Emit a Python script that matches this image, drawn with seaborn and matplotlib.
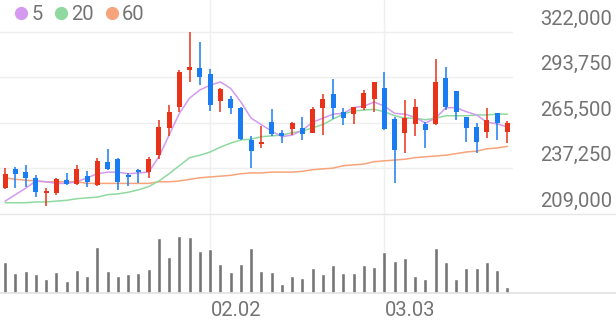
import numpy as np
import pandas as pd
import matplotlib
matplotlib.use("Agg")
import matplotlib.pyplot as plt
import matplotlib.transforms as mtrans
from matplotlib.lines import Line2D
import seaborn as sns

# ---------------- data ----------------
opens = [225000, 237000, 235000, 231500, 222000, 222000, 230000, 227500, 232500, 227000,
         241500, 243000, 233000, 236500, 235000, 245500, 262500, 275500, 298500, 299500,
         296000, 279000, 280500, 275000, 255000, 252500, 266000, 259500, 262000, 262500,
         259500, 275000, 283500, 272500, 271000, 275000, 280500, 287000, 268000, 259500,
         265000, 265000, 265000, 293500, 285500, 269000, 263000, 260000, 271500, 260000]
highs = [237500, 238000, 239500, 233000, 225000, 231500, 234500, 239500, 235500, 244000,
         249500, 244000, 234500, 237000, 244500, 267500, 276500, 298500, 322000, 316000,
         299000, 287000, 282500, 275500, 257500, 263500, 274000, 261000, 266000, 269000,
         275500, 283500, 293000, 275000, 275500, 286000, 291000, 297000, 269000, 280000,
         280500, 266000, 305000, 300500, 285500, 269000, 265500, 275000, 271500, 266500]
lows = [224500, 225000, 226000, 219500, 214000, 221000, 227000, 227000, 226000, 226500,
        236500, 224000, 226500, 228000, 231500, 243000, 257500, 272500, 291000, 289000,
        273000, 272500, 271000, 255000, 237500, 250000, 257500, 253000, 258000, 255000,
        259000, 258000, 268000, 264500, 265000, 273500, 272500, 261000, 228000, 247000,
        257500, 250000, 264500, 273500, 267500, 253500, 247000, 256000, 255000, 253000]
closes = [234000, 234000, 231500, 222500, 223500, 230500, 227500, 237000, 229000, 242000,
          237000, 229000, 232000, 235000, 243000, 263000, 272500, 297000, 300500, 294000,
          276500, 286500, 275000, 255500, 248000, 253500, 258500, 257500, 265500, 258500,
          274000, 280500, 275000, 268500, 275500, 284000, 291000, 262000, 248500, 268500,
          275500, 261000, 291000, 275500, 272500, 262500, 253500, 267500, 265500, 265500]
ma5 = [217000, 221000, 225000, 229500, 229000, 228000, 228000, 229000, 231500, 234000,
       235000, 235000, 234000, 234500, 235000, 244500, 258000, 271500, 281000, 286000,
       289000, 291000, 287000, 278500, 268500, 264500, 260500, 257000, 258000, 261000,
       266000, 268500, 271000, 271500, 275000, 276000, 278500, 276000, 271500, 271000,
       269000, 265500, 268500, 275000, 275000, 272500, 270500, 266000, 265000, 263000]
ma20 = [216000, 216000, 216000, 216500, 216500, 217000, 217500, 218500, 219000, 219500,
        221000, 221500, 222500, 224000, 226000, 229500, 234000, 239000, 244000, 245500,
        247500, 250500, 253000, 255000, 255500, 257000, 257500, 258000, 259500, 260500,
        262500, 264500, 268000, 271000, 273000, 273500, 274000, 272500, 270000, 268500,
        268500, 267500, 268500, 270000, 270000, 270000, 270500, 270500, 271000, 271000]
ma60 = [231500, 230500, 230000, 229500, 229000, 229000, 229000, 229000, 228000, 228000,
        228000, 228000, 228000, 228000, 228000, 229000, 229000, 229500, 230500, 231500,
        232000, 232500, 233000, 234000, 234500, 234500, 235000, 235000, 235000, 235500,
        236500, 237000, 237500, 239000, 239500, 240000, 241500, 242000, 242500, 243000,
        244000, 244500, 245000, 245500, 246500, 247500, 248000, 249500, 250000, 251000]
volumes = [31000, 20000, 22000, 19000, 14000, 21000, 12000, 23000, 17000, 46000,
           22000, 17000, 19000, 20000, 24000, 55000, 36000, 57000, 56000, 42000,
           44000, 29000, 21000, 29000, 45000, 22000, 21000, 9000, 17000, 15000,
           25000, 19000, 28000, 20000, 20000, 28000, 26000, 41000, 32000, 35000,
           17000, 14000, 45000, 31000, 14000, 25000, 25000, 31000, 23000, 6000]
ytick_vals = [209000, 237250, 265500, 293750, 322000]
xtick_pos = [20, 37]
xtick_labels = ["02.02", "03.03"]
legend_labels = ["5", "20", "60"]

# ---------------- style ----------------
sns.set_theme(style="white")
plt.rcParams["font.family"] = ["Roboto", "DejaVu Sans"]

RED = "#e8321a"
BLUE = "#1a7cf2"
GRAY_TXT = "#737373"
GRID = "#efefef"
MA_COLORS = ["#d49af0", "#8fd9a0", "#f7a47c"]

W, H = 616, 321
fig = plt.figure(figsize=(W / 100, H / 100), dpi=100)
plot_w = 512.5 / W
ax = fig.add_axes([0, 1 - 214 / H, plot_w, 214 / H])
axv = fig.add_axes([0, 1 - 293 / H, plot_w, 79 / H])

n = len(closes)
idx = np.arange(n)
df = pd.DataFrame({"i": idx, "open": opens, "high": highs, "low": lows,
                   "close": closes, "ma5": ma5, "ma20": ma20, "ma60": ma60,
                   "vol": volumes})
up = df["close"] >= df["open"]
colors = np.where(up, RED, BLUE)

# price axis scale: gridline 322,000 at px 32 from top, 209,000 at px 214
px_per = (214 - 32) / (322000 - 209000)
ytop = 322000 + 32 / px_per
ax.set_ylim(209000, ytop)
ax.set_xlim(-0.5, n - 0.5)

for v in ytick_vals[1:]:
    ax.axhline(v, color=GRID, lw=1, zorder=0)
for xp in xtick_pos:
    ax.axvline(xp, color=GRID, lw=1, zorder=0)
    axv.axvline(xp, color=GRID, lw=1, zorder=0)

# moving averages
for col, c in zip(["ma60", "ma20", "ma5"], MA_COLORS[::-1]):
    sns.lineplot(data=df, x="i", y=col, ax=ax, color=c, lw=1.1, zorder=2)

# candles
ax.vlines(df["i"], df["low"], df["high"], colors=colors, lw=1.1, zorder=3)
body_bottom = np.minimum(df["open"], df["close"])
body_h = np.maximum(np.abs(df["close"] - df["open"]), 700)
ax.bar(df["i"], body_h, bottom=body_bottom, width=0.5, color=colors, zorder=4, linewidth=0)

# volume
sns.barplot(data=df, x="i", y="vol", ax=axv, color="#757575", width=0.4,
            saturation=1, zorder=3)
axv.set_xlim(-0.5, n - 0.5)
axv.set_ylim(0, 79000)

for a in (ax, axv):
    a.set_xticks([])
    a.set_yticks([])
    a.set_xlabel("")
    a.set_ylabel("")
    for s in a.spines.values():
        s.set_visible(False)
    a.patch.set_alpha(0)

# full-width separator lines
t1 = mtrans.blended_transform_factory(fig.transFigure, ax.transData)
fig.add_artist(Line2D([0, 1], [209000, 209000], transform=t1, color="#e6e6e6", lw=1))
t2 = mtrans.blended_transform_factory(fig.transFigure, axv.transData)
fig.add_artist(Line2D([0, 1], [0, 0], transform=t2, color="#e2e2e2", lw=1.2))

# y tick labels (above gridlines, right-aligned)
lab_t = t1 + mtrans.ScaledTranslation(0, 3.5 / 100, fig.dpi_scale_trans)
for v in ytick_vals:
    ax.text(612 / W, v, f"{v:,}", transform=lab_t, ha="right", va="bottom",
            fontsize=14.5, color=GRAY_TXT)

# x tick labels (left-aligned at the gridline)
tx = mtrans.blended_transform_factory(axv.transData, fig.transFigure)
for p, l in zip(xtick_pos, xtick_labels):
    axv.text(p + 0.08, 1 - 310 / H, l, transform=tx, ha="left", va="center",
             fontsize=14.5, color=GRAY_TXT)

# legend
handles = [Line2D([], [], marker="o", linestyle="", color=c, markersize=8.5, label=l)
           for c, l in zip(MA_COLORS, legend_labels)]
fig.legend(handles=handles, loc="upper left", bbox_to_anchor=(-0.008, 1.028), ncol=3,
           frameon=False, fontsize=14.5, handletextpad=-0.1, columnspacing=0.3,
           labelcolor=GRAY_TXT, borderpad=0.2, handlelength=1.2)

fig.savefig("out.png", dpi=100)
